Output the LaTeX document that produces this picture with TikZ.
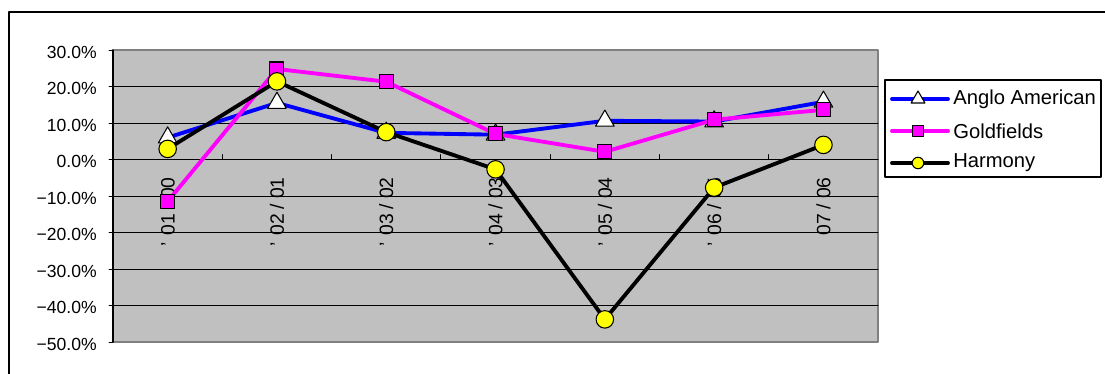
\documentclass[tikz,border=0pt]{standalone}
\usepackage{fontspec}
\setmainfont{Liberation Sans}
\usetikzlibrary{shapes.geometric}

\definecolor{plotgray}{HTML}{C0C0C0}
\definecolor{framegray}{HTML}{808080}
\definecolor{aablue}{HTML}{0000FF}
\definecolor{gfpink}{HTML}{FF00FF}
\definecolor{hmyellow}{HTML}{FFFF00}

\tikzset{
  series/.style={line width=2.2pt, line join=round, line cap=round},
  trimark/.style={regular polygon, regular polygon sides=3, draw=black, fill=white,
    line width=0.6pt, inner sep=0pt, minimum size=0.43cm},
  sqmark/.style={rectangle, draw=black, fill=gfpink, line width=0.6pt,
    inner sep=0pt, minimum size=0.28cm},
  circmark/.style={circle, draw=black, fill=hmyellow, line width=0.6pt,
    inner sep=0pt, minimum size=0.35cm},
  ylab/.style={anchor=east, inner sep=0pt, font=\fontsize{10}{12}\selectfont},
  xlab/.style={anchor=east, rotate=90, inner sep=0pt, font=\fontsize{11}{13}\selectfont},
  legtext/.style={anchor=west, inner sep=0pt, font=\fontsize{11.5}{14}\selectfont}
}
\newcommand{\catsl}{\kern0.1cm/\kern0.1cm}
\newcommand{\catap}{’\kern0.12cm}

\begin{document}
\begin{tikzpicture}[x=0.02cm, y=-0.02cm, line cap=round, line join=round]
  \useasboundingbox (0,0) rectangle (1105,374);

  % chart frame (only top and left edges visible)
  \draw[line width=0.6pt] (1105,12) -- (9,12) -- (9,374);

  % plot area
  \coordinate (ptl) at (113,50);
  \coordinate (pbr) at (878,342);
  \filldraw[fill=plotgray, draw=framegray, line width=0.8pt] (ptl) rectangle (pbr);

  % gridlines, ticks and y labels
  \foreach \v/\t in {30/30.0\%, 20/20.0\%, 10/10.0\%, 0/0.0\%, -10/−10.0\%,
      -20/−20.0\%, -30/−30.0\%, -40/−40.0\%, -50/−50.0\%} {
    \draw[line width=0.5pt] (109,{159.5-3.65*(\v)}) -- (113,{159.5-3.65*(\v)});
    \node[ylab] (ylab\v) at (97,{159.5-3.65*(\v)+2}) {\t};
  }
  \foreach \v in {20,10,-10,-20,-30,-40}
    \draw[line width=0.5pt] (113,{159.5-3.65*(\v)}) -- (878,{159.5-3.65*(\v)});

  % axes
  \draw[line width=0.6pt] (113,50) -- (113,342);
  \draw[line width=0.6pt] (113,159.5) -- (878,159.5);
  \foreach \i in {1,...,6}
    \draw[line width=0.5pt] ({113+109.3*\i},159.5) -- ({113+109.3*\i},154.5);

  % category labels
  \foreach \t [count=\i] in {\catap 01\catsl 00,\catap 02\catsl 01,\catap 03\catsl 02,
      \catap 04\catsl 03,\catap 05\catsl 04,\catap 06\catsl 05,07\catsl 06}
    \node[xlab] (xlab\i) at ({113+109.3*(\i-0.5)},177) {\t};

  % data points
  \foreach \v [count=\i] in {6.0,15.5,7.3,6.8,10.6,10.4,15.8}
    \coordinate (aa\i) at ({113+109.3*(\i-0.5)},{159.5-3.65*(\v)});
  \foreach \v [count=\i] in {-11.5,24.8,21.3,7.0,2.1,10.9,13.6}
    \coordinate (gf\i) at ({113+109.3*(\i-0.5)},{159.5-3.65*(\v)});
  \foreach \v [count=\i] in {2.9,21.4,7.5,-2.7,-43.8,-7.7,4.0}
    \coordinate (hm\i) at ({113+109.3*(\i-0.5)},{159.5-3.65*(\v)});

  % Anglo American
  \draw[series, aablue] (aa1) \foreach \i in {2,...,7} {-- (aa\i)};
  \foreach \i in {1,...,7}
    \node[trimark] (aam\i) at (aa\i) {};

  % Goldfields
  \draw[series, gfpink] (gf1) \foreach \i in {2,...,7} {-- (gf\i)};
  \foreach \i in {1,...,7}
    \node[sqmark] (gfm\i) at (gf\i) {};

  % Harmony
  \draw[series, black] (hm1) \foreach \i in {2,...,7} {-- (hm\i)};
  \foreach \i in {1,...,7}
    \node[circmark] (hmm\i) at (hm\i) {};

  % legend
  \draw[line width=0.6pt] (885,80) rectangle (1101,177);
  \coordinate (la1) at (892,99);  \coordinate (la2) at (948,99);
  \coordinate (lb1) at (892,131); \coordinate (lb2) at (948,131);
  \coordinate (lc1) at (892,163); \coordinate (lc2) at (948,163);
  \draw[series, aablue] (la1) -- (la2);
  \node[trimark, minimum size=0.32cm] (lam) at (918,99) {};
  \node[legtext] (lat) at (953,99) {Anglo American};
  \draw[series, gfpink] (lb1) -- (lb2);
  \node[sqmark, minimum size=0.21cm] (lbm) at (918,131) {};
  \node[legtext] (lbt) at (953,131) {Goldfields};
  \draw[series, black] (lc1) -- (lc2);
  \node[circmark, minimum size=0.23cm] (lcm) at (918,163) {};
  \node[legtext] (lct) at (953,163) {Harmony};
\end{tikzpicture}
\end{document}
